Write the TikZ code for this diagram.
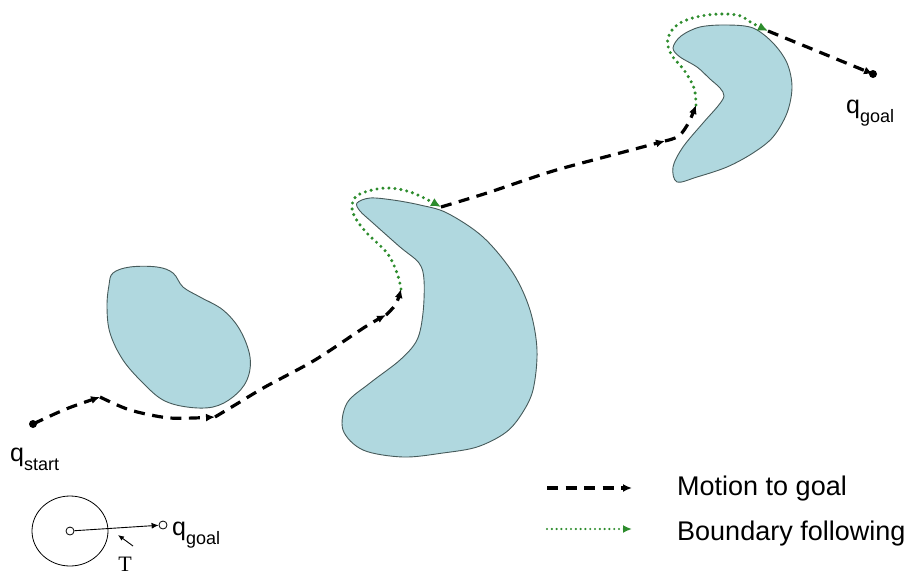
\documentclass[tikz,border=0pt]{standalone}
\usepackage{fontspec}
\setmainfont{Liberation Sans}
\newfontfamily\serifT{Liberation Serif}
\usetikzlibrary{arrows.meta}
\definecolor{obst}{RGB}{176,216,223}
\definecolor{obline}{RGB}{70,90,90}
\definecolor{bgreen}{RGB}{45,140,45}
\tikzset{
  obstacle/.style={fill=obst,draw=obline,line width=0.9pt},
  motion/.style={line width=3.2pt,dash pattern=on 11pt off 7.5pt,-{Latex[length=9pt,width=8pt]}},
  bound/.style={bgreen,line width=3.4pt,dash pattern=on 0pt off 6pt,line cap=round,-{Latex[length=10pt,width=9pt]}},
  lbl/.style={inner sep=0pt,font=\fontsize{25}{25}\selectfont},
  legtext/.style={inner sep=0pt,anchor=base west,font=\fontsize{27}{30}\selectfont},
  dotpt/.style={circle,fill=black,inner sep=0pt,minimum size=8pt},
  smallc/.style={circle,draw,line width=0.8pt,inner sep=0pt,minimum size=8pt}
}
\newcommand{\subtxt}[1]{\raisebox{-9pt}{\fontsize{18}{18}\selectfont #1}}
\begin{document}
\begin{tikzpicture}[x=1pt,y=-1pt]
\useasboundingbox (0,0) rectangle (912,578);

% obstacles
\draw[obstacle] plot[smooth cycle,tension=0.6] coordinates {
 (113,273) (130,267) (157,267) (173,273) (183,287) (200,297) (223,310) (240,330)
 (250,357) (247,380) (233,397) (213,407) (187,407) (163,400) (143,383) (123,360)
 (110,333) (107,307) (109,285)};
\draw[obstacle] plot[smooth cycle,tension=0.55] coordinates {
 (357,203) (370,198) (393,200) (420,205) (447,213) (483,237) (513,273) (530,310)
 (537,350) (533,390) (521,415) (505,433) (477,447) (443,453) (403,457) (363,450)
 (343,430) (347,403) (370,383) (400,360) (417,340) (423,313) (424,280) (419,263)
 (400,247) (373,223) (360,211)};
\draw[obstacle] plot[smooth cycle,tension=0.55] coordinates {
 (673,48) (681,36) (700,27) (727,25) (753,28) (773,43) (787,63) (792,87) (787,113)
 (773,137) (753,153) (727,167) (697,177) (677,182) (673,167) (683,147) (703,123)
 (718,106) (724,96) (720,88) (710,79) (697,67) (680,57)};

% path coordinates
\coordinate (qs) at (33,424);
\coordinate (w1) at (100,397);
\coordinate (w2) at (215,417);
\coordinate (w3) at (386,315);
\coordinate (w4) at (401,289);
\coordinate (g1) at (441,207);
\coordinate (w5) at (665,141);
\coordinate (w6) at (696,105);
\coordinate (g2) at (768,31);
\coordinate (qg) at (873,74);

% motion to goal / boundary following
\draw[motion] plot[smooth] coordinates {(qs) (66,409) (w1)};
\draw[motion] plot[smooth] coordinates {(w1) (130,410) (170,418) (w2)};
\draw[motion] plot[smooth] coordinates {(w2) (235,405) (265,387) (315,360) (365,327) (w3)};
\draw[motion] plot[smooth] coordinates {(w3) (396,304) (w4)};
\draw[bound] plot[smooth,tension=0.6] coordinates {(w4) (397,273) (387,253) (365,231) (353,213) (354,199) (365,192) (388,188) (413,193) (g1)};
\draw[motion] plot[smooth] coordinates {(g1) (487,193) (553,171) (620,153) (w5)};
\draw[motion] plot[smooth] coordinates {(w5) (679,136) (689,122) (w6)};
\draw[bound] plot[smooth,tension=0.6] coordinates {(w6) (694,88) (684,70) (671,54) (668,38) (680,23) (707,15) (737,15) (752,23) (g2)};
\draw[motion] (g2) -- (qg);

\node[dotpt] (qsdot) at (qs) {};
\node[dotpt] (qgdot) at (qg) {};

% labels
\node[lbl,anchor=base west] (qslabel) at (10,461) {q\subtxt{start}};
\node[lbl,anchor=base west] (qglabel) at (846,113) {q\subtxt{goal}};

% bottom-left sketch
\draw[line width=0.8pt] (70,531) ellipse [x radius=38, y radius=35];
\node[smallc] (c0) at (70,531) {};
\node[smallc] (c1) at (163,525) {};
\draw[line width=0.9pt,-{Latex[length=7pt,width=6pt]}] (c0) -- (c1);
\node[lbl,anchor=base west] (qg2) at (172,535) {q\subtxt{goal}};
\coordinate (tfrom) at (133,546);
\coordinate (tto) at (118,535);
\draw[line width=0.9pt,-{Latex[length=6pt,width=5pt]}] (tfrom) -- (tto);
\node[inner sep=0pt,anchor=base,font=\serifT\fontsize{22}{22}\selectfont] (T) at (125,571) {T};

% legend
\coordinate (l1a) at (547,488);
\coordinate (l1b) at (632,488);
\coordinate (l2a) at (547,529);
\coordinate (l2b) at (632,529);
\draw[motion] (l1a) -- (l1b);
\draw[bound,line width=2.4pt,dash pattern=on 0pt off 4.8pt,-{Latex[length=9pt,width=8pt]}] (l2a) -- (l2b);
\node[legtext] (leg1) at (677,495) {Motion to goal};
\node[legtext] (leg2) at (677,540) {Boundary following};
\end{tikzpicture}
\end{document}
